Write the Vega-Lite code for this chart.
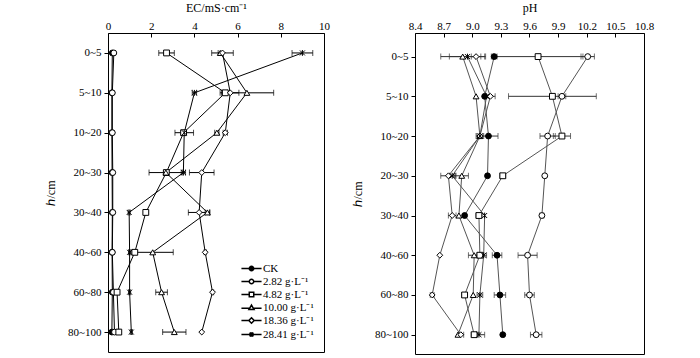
{
  "$schema": "https://vega.github.io/schema/vega-lite/v6.json",
  "background": "white",
  "padding": {"left": 44, "top": 0, "right": 5, "bottom": 0},
  "spacing": 21,
  "config": {
    "font": "Times New Roman",
    "view": {"stroke": "black", "strokeWidth": 1},
    "axis": {
      "grid": false,
      "domain": false,
      "tickColor": "black",
      "labelColor": "black",
      "titleColor": "black",
      "labelFontSize": 11,
      "titleFontSize": 12,
      "titleFontWeight": "normal",
      "labelFont": "Times New Roman",
      "titleFont": "Times New Roman",
      "labelOverlap": false,
      "labelFlush": false
    },
    "legend": {"labelFont": "Times New Roman", "labelFontSize": 11}
  },
  "datasets": {
    "soil": [
      {"d": "0~5", "i": 1, "t": "CK", "ec": 0.2, "ece": 0, "ph": 9.23, "phe": 0.03},
      {"d": "5~10", "i": 2, "t": "CK", "ec": 0.18, "ece": 0, "ph": 9.13, "phe": 0},
      {"d": "10~20", "i": 3, "t": "CK", "ec": 0.18, "ece": 0, "ph": 9.17, "phe": 0.1},
      {"d": "20~30", "i": 4, "t": "CK", "ec": 0.19, "ece": 0, "ph": 9.16, "phe": 0},
      {"d": "30~40", "i": 5, "t": "CK", "ec": 0.2, "ece": 0, "ph": 8.92, "phe": 0},
      {"d": "40~60", "i": 6, "t": "CK", "ec": 0.19, "ece": 0, "ph": 9.26, "phe": 0.05},
      {"d": "60~80", "i": 7, "t": "CK", "ec": 0.2, "ece": 0, "ph": 9.29, "phe": 0.06},
      {"d": "80~100", "i": 8, "t": "CK", "ec": 0.18, "ece": 0, "ph": 9.32, "phe": 0},

      {"d": "0~5", "i": 1, "t": "2.82 g·L⁻¹", "ec": 0.27, "ece": 0, "ph": 10.21, "phe": 0.07},
      {"d": "5~10", "i": 2, "t": "2.82 g·L⁻¹", "ec": 0.2, "ece": 0, "ph": 9.94, "phe": 0.04},
      {"d": "10~20", "i": 3, "t": "2.82 g·L⁻¹", "ec": 0.2, "ece": 0, "ph": 9.79, "phe": 0.08},
      {"d": "20~30", "i": 4, "t": "2.82 g·L⁻¹", "ec": 0.22, "ece": 0, "ph": 9.76, "phe": 0},
      {"d": "30~40", "i": 5, "t": "2.82 g·L⁻¹", "ec": 0.22, "ece": 0, "ph": 9.73, "phe": 0.02},
      {"d": "40~60", "i": 6, "t": "2.82 g·L⁻¹", "ec": 0.2, "ece": 0, "ph": 9.58, "phe": 0.1},
      {"d": "60~80", "i": 7, "t": "2.82 g·L⁻¹", "ec": 0.25, "ece": 0, "ph": 9.6, "phe": 0.05},
      {"d": "80~100", "i": 8, "t": "2.82 g·L⁻¹", "ec": 0.3, "ece": 0, "ph": 9.67, "phe": 0.06},

      {"d": "0~5", "i": 1, "t": "4.82 g·L⁻¹", "ec": 2.71, "ece": 0.36, "ph": 9.69, "phe": 0.47},
      {"d": "5~10", "i": 2, "t": "4.82 g·L⁻¹", "ec": 5.43, "ece": 0.1, "ph": 9.84, "phe": 0.46},
      {"d": "10~20", "i": 3, "t": "4.82 g·L⁻¹", "ec": 3.5, "ece": 0.1, "ph": 9.94, "phe": 0.09},
      {"d": "20~30", "i": 4, "t": "4.82 g·L⁻¹", "ec": 2.7, "ece": 0.1, "ph": 9.32, "phe": 0.03},
      {"d": "30~40", "i": 5, "t": "4.82 g·L⁻¹", "ec": 1.75, "ece": 0, "ph": 9.07, "phe": 0.03},
      {"d": "40~60", "i": 6, "t": "4.82 g·L⁻¹", "ec": 1.24, "ece": 0.1, "ph": 9.08, "phe": 0.03},
      {"d": "60~80", "i": 7, "t": "4.82 g·L⁻¹", "ec": 0.42, "ece": 0, "ph": 8.92, "phe": 0.03},
      {"d": "80~100", "i": 8, "t": "4.82 g·L⁻¹", "ec": 0.5, "ece": 0.05, "ph": 9.02, "phe": 0.03},

      {"d": "0~5", "i": 1, "t": "10.00 g·L⁻¹", "ec": 5.2, "ece": 0.1, "ph": 8.9, "phe": 0.23},
      {"d": "5~10", "i": 2, "t": "10.00 g·L⁻¹", "ec": 6.43, "ece": 1.24, "ph": 9.04, "phe": 0},
      {"d": "10~20", "i": 3, "t": "10.00 g·L⁻¹", "ec": 5.04, "ece": 0.1, "ph": 9.08, "phe": 0.03},
      {"d": "20~30", "i": 4, "t": "10.00 g·L⁻¹", "ec": 2.68, "ece": 0.78, "ph": 8.89, "phe": 0.07},
      {"d": "30~40", "i": 5, "t": "10.00 g·L⁻¹", "ec": 4.6, "ece": 0.1, "ph": 8.86, "phe": 0},
      {"d": "40~60", "i": 6, "t": "10.00 g·L⁻¹", "ec": 2.07, "ece": 0.95, "ph": 9.02, "phe": 0.06},
      {"d": "60~80", "i": 7, "t": "10.00 g·L⁻¹", "ec": 2.48, "ece": 0.27, "ph": 9.01, "phe": 0},
      {"d": "80~100", "i": 8, "t": "10.00 g·L⁻¹", "ec": 3.07, "ece": 0.54, "ph": 8.85, "phe": 0},

      {"d": "0~5", "i": 1, "t": "18.36 g·L⁻¹", "ec": 5.3, "ece": 0.5, "ph": 9.04, "phe": 0.05},
      {"d": "5~10", "i": 2, "t": "18.36 g·L⁻¹", "ec": 5.66, "ece": 0.4, "ph": 9.19, "phe": 0.05},
      {"d": "10~20", "i": 3, "t": "18.36 g·L⁻¹", "ec": 5.43, "ece": 0.1, "ph": 9.08, "phe": 0.04},
      {"d": "20~30", "i": 4, "t": "18.36 g·L⁻¹", "ec": 4.34, "ece": 0.57, "ph": 8.75, "phe": 0.08},
      {"d": "30~40", "i": 5, "t": "18.36 g·L⁻¹", "ec": 4.22, "ece": 0.5, "ph": 8.79, "phe": 0.04},
      {"d": "40~60", "i": 6, "t": "18.36 g·L⁻¹", "ec": 4.5, "ece": 0.05, "ph": 8.66, "phe": 0},
      {"d": "60~80", "i": 7, "t": "18.36 g·L⁻¹", "ec": 4.84, "ece": 0.05, "ph": 8.58, "phe": 0.02},
      {"d": "80~100", "i": 8, "t": "18.36 g·L⁻¹", "ec": 4.34, "ece": 0, "ph": 8.88, "phe": 0.03},

      {"d": "0~5", "i": 1, "t": "28.41 g·L⁻¹", "ec": 9.0, "ece": 0.48, "ph": 8.95, "phe": 0.19},
      {"d": "5~10", "i": 2, "t": "28.41 g·L⁻¹", "ec": 4.0, "ece": 0.1, "ph": 9.15, "phe": 0},
      {"d": "10~20", "i": 3, "t": "28.41 g·L⁻¹", "ec": 3.53, "ece": 0.43, "ph": 9.08, "phe": 0},
      {"d": "20~30", "i": 4, "t": "28.41 g·L⁻¹", "ec": 3.49, "ece": 0.1, "ph": 8.79, "phe": 0.03},
      {"d": "30~40", "i": 5, "t": "28.41 g·L⁻¹", "ec": 0.98, "ece": 0.05, "ph": 9.13, "phe": 0},
      {"d": "40~60", "i": 6, "t": "28.41 g·L⁻¹", "ec": 1.0, "ece": 0.05, "ph": 9.12, "phe": 0.03},
      {"d": "60~80", "i": 7, "t": "28.41 g·L⁻¹", "ec": 1.0, "ece": 0.05, "ph": 9.08, "phe": 0.03},
      {"d": "80~100", "i": 8, "t": "28.41 g·L⁻¹", "ec": 1.08, "ece": 0.05, "ph": 9.07, "phe": 0.06}
    ]
  },
  "resolve": {"scale": {"y": "independent", "x": "independent"}},
  "hconcat": [
    {
      "width": 216,
      "height": 319,
      "data": {"name": "soil"},
      "encoding": {
        "y": {
          "field": "d", "type": "ordinal", "title": "ℎ/cm",
          "scale": {"type": "point", "padding": 0.5, "domain": ["0~5", "5~10", "10~20", "20~30", "30~40", "40~60", "60~80", "80~100"]},
          "axis": {"tickSize": 4, "labelPadding": 3, "titlePadding": 10}
        },
        "x": {
          "field": "ec", "type": "quantitative", "title": "EC/mS·cm⁻¹",
          "scale": {"domain": [0, 10], "nice": false},
          "axis": {"orient": "top", "values": [0, 2, 4, 6, 8, 10], "tickSize": -4, "labelPadding": 6, "titlePadding": 6, "labelOverlap": false, "labelFlush": false}
        }
      },
      "resolve": {"scale": {"shape": "independent", "fill": "independent"}},
      "layer": [
        {
          "transform": [{"filter": "datum.ece > 0"}],
          "mark": {"type": "errorbar", "ticks": {"size": 6}, "color": "black", "thickness": 1},
          "encoding": {"xError": {"field": "ece"}}
        },
        {
          "mark": {"type": "line", "color": "black", "strokeWidth": 1},
          "encoding": {
            "detail": {"field": "t"},
            "order": {"field": "i", "type": "quantitative"}
          }
        },
        {
          "mark": {"type": "point", "filled": true, "stroke": "black", "strokeWidth": 1, "size": 34, "opacity": 1},
          "encoding": {
            "shape": {
              "field": "t", "type": "nominal", "legend": null,
              "scale": {
                "domain": ["CK", "2.82 g·L⁻¹", "4.82 g·L⁻¹", "10.00 g·L⁻¹", "18.36 g·L⁻¹", "28.41 g·L⁻¹"],
                "range": ["circle", "circle", "square", "triangle-up", "diamond", "M0,-1L0,1M-0.85,-0.85L0.85,0.85M-0.85,0.85L0.85,-0.85"]
              }
            },
            "fill": {
              "field": "t", "type": "nominal", "legend": null,
              "scale": {
                "domain": ["CK", "2.82 g·L⁻¹", "4.82 g·L⁻¹", "10.00 g·L⁻¹", "18.36 g·L⁻¹", "28.41 g·L⁻¹"],
                "range": ["black", "white", "white", "white", "white", "white"]
              }
            }
          }
        },
        {
          "mark": {"type": "point", "filled": true, "stroke": "black", "strokeWidth": 1, "size": 20, "opacity": 0},
          "encoding": {
            "shape": {
              "field": "t", "type": "nominal",
              "scale": {
                "domain": ["CK", "2.82 g·L⁻¹", "4.82 g·L⁻¹", "10.00 g·L⁻¹", "18.36 g·L⁻¹", "28.41 g·L⁻¹"],
                "range": [
                  "M-4.5,0L4.5,0M1,0A1,1,0,1,1,-1,0A1,1,0,1,1,1,0ZM0.5,0A0.5,0.5,0,1,1,-0.5,0A0.5,0.5,0,1,1,0.5,0ZM0,-1L0,1",
                  "M-4.5,0L-1,0M1,0L4.5,0M1,0A1,1,0,1,1,-1,0A1,1,0,1,1,1,0Z",
                  "M-4.5,0L-1,0M1,0L4.5,0M-1,-1L1,-1L1,1L-1,1Z",
                  "M-4.5,0.3L-0.8,0.3M0.8,0.3L4.5,0.3M0,-1.1L1.15,0.9L-1.15,0.9Z",
                  "M-4.5,0L-1.2,0M1.2,0L4.5,0M0,-1.2L1.2,0L0,1.2L-1.2,0Z",
                  "M-4.5,0L4.5,0M0,-1L0,1M-0.85,-0.85L0.85,0.85M-0.85,0.85L0.85,-0.85"
                ]
              },
              "legend": {
                "title": null, "orient": "none", "legendX": 138, "legendY": 230,
                "padding": 0, "labelFontSize": 11, "labelColor": "black", "symbolSize": 20,
                "rowPadding": 1, "labelOffset": 6,
                "encode": {"symbols": {"update": {"stroke": {"value": "black"}, "strokeWidth": {"value": 1}, "opacity": {"value": 1}, "strokeOpacity": {"value": 1}, "fillOpacity": {"value": 1}, "fill": {"signal": "datum.value === 'CK' ? 'black' : 'white'"}}}}
              }
            },
            "fill": {
              "field": "t", "type": "nominal",
              "scale": {
                "domain": ["CK", "2.82 g·L⁻¹", "4.82 g·L⁻¹", "10.00 g·L⁻¹", "18.36 g·L⁻¹", "28.41 g·L⁻¹"],
                "range": ["black", "white", "white", "white", "white", "white"]
              },
              "legend": {
                "title": null, "orient": "none", "legendX": 138, "legendY": 230,
                "padding": 0, "labelFontSize": 11, "labelColor": "black", "symbolSize": 20,
                "rowPadding": 1, "labelOffset": 6,
                "encode": {"symbols": {"update": {"stroke": {"value": "black"}, "strokeWidth": {"value": 1}, "opacity": {"value": 1}, "strokeOpacity": {"value": 1}, "fillOpacity": {"value": 1}, "fill": {"signal": "datum.value === 'CK' ? 'black' : 'white'"}}}}
              }
            }
          }
        }
      ]
    },
    {
      "width": 229,
      "height": 321,
      "data": {"name": "soil"},
      "encoding": {
        "y": {
          "field": "d", "type": "ordinal", "title": "ℎ/cm",
          "scale": {"type": "point", "padding": 0.54, "align": 0.55, "domain": ["0~5", "5~10", "10~20", "20~30", "30~40", "40~60", "60~80", "80~100"]},
          "axis": {"tickSize": 4, "labelPadding": 3, "titlePadding": 10}
        },
        "x": {
          "field": "ph", "type": "quantitative", "title": "pH",
          "scale": {"domain": [8.4, 10.8], "nice": false, "zero": false},
          "axis": {"orient": "top", "values": [8.4, 8.7, 9.0, 9.3, 9.6, 9.9, 10.2, 10.5, 10.8], "format": ".1f", "tickSize": -4, "labelPadding": 6, "titlePadding": 6, "labelOverlap": false, "labelFlush": false}
        }
      },
      "layer": [
        {
          "transform": [{"filter": "datum.phe > 0"}],
          "mark": {"type": "errorbar", "ticks": {"size": 6}, "color": "#333333", "thickness": 1},
          "encoding": {"xError": {"field": "phe"}}
        },
        {
          "mark": {"type": "line", "color": "#555555", "strokeWidth": 1},
          "encoding": {
            "detail": {"field": "t"},
            "order": {"field": "i", "type": "quantitative"}
          }
        },
        {
          "mark": {"type": "point", "filled": true, "stroke": "black", "strokeWidth": 1, "size": 34, "opacity": 1},
          "encoding": {
            "shape": {
              "field": "t", "type": "nominal", "legend": null,
              "scale": {
                "domain": ["CK", "2.82 g·L⁻¹", "4.82 g·L⁻¹", "10.00 g·L⁻¹", "18.36 g·L⁻¹", "28.41 g·L⁻¹"],
                "range": ["circle", "circle", "square", "triangle-up", "diamond", "M0,-1L0,1M-0.85,-0.85L0.85,0.85M-0.85,0.85L0.85,-0.85"]
              }
            },
            "fill": {
              "field": "t", "type": "nominal", "legend": null,
              "scale": {
                "domain": ["CK", "2.82 g·L⁻¹", "4.82 g·L⁻¹", "10.00 g·L⁻¹", "18.36 g·L⁻¹", "28.41 g·L⁻¹"],
                "range": ["black", "white", "white", "white", "white", "white"]
              }
            }
          }
        }
      ]
    }
  ]
}
